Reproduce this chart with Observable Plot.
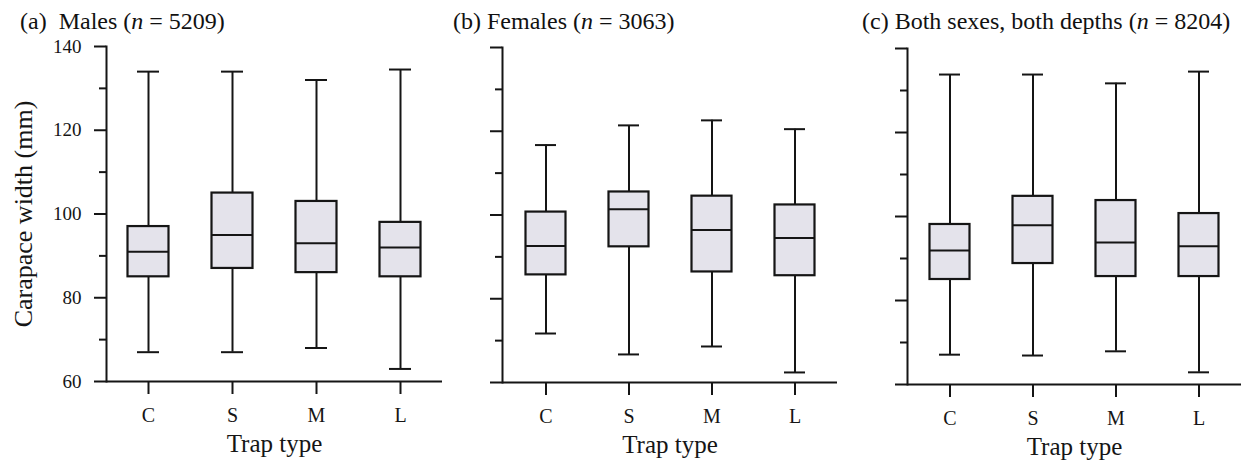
<!DOCTYPE html>
<html>
<head>
<meta charset="utf-8">
<script src="https://cdn.jsdelivr.net/npm/d3@7"></script>
<script src="https://cdn.jsdelivr.net/npm/@observablehq/plot@0.6"></script>
<style>
  body { margin: 0; background: #fff; }
  #wrap { position: relative; width: 1241px; height: 464px; font-family: "Liberation Serif", "Times New Roman", serif; color: #111; overflow: hidden; }
  .title { position: absolute; top: 9px; font-size: 24px; line-height: 24px; white-space: nowrap; }
  .panel { position: absolute; top: 0; }
</style>
</head>
<body>
<div id="wrap">
  <div class="title" style="left:20px">(a)&nbsp; Males (<i>n</i> = 5209)</div>
  <div class="title" style="left:453px">(b) Females (<i>n</i> = 3063)</div>
  <div class="title" style="left:862px">(c) Both sexes, both depths (<i>n</i> = 8204)</div>
  <div class="panel" id="pa" style="left:0px"></div>
  <div class="panel" id="pb" style="left:442px"></div>
  <div class="panel" id="pc" style="left:837px"></div>
</div>
<script>
// Categories
const trapTypes = ["C", "S", "M", "L"];

// Axis ticks
const majorTicks = [60, 80, 100, 120, 140];
const minorTicks = [70, 90, 110, 130];
const yLabel = "Carapace width (mm)";
const xLabel = "Trap type";

// (a) Males
const malesLow    = [67, 67, 68, 63];
const malesQ1     = [85, 87, 86, 85];
const malesMedian = [91, 95, 93, 92];
const malesQ3     = [97, 105, 103, 98];
const malesHigh   = [134, 134, 132, 134.5];

// (b) Females
const femalesLow    = [71.7, 66.7, 68.6, 62.4];
const femalesQ1     = [85.7, 92.4, 86.4, 85.5];
const femalesMedian = [92.6, 101.4, 96.4, 94.5];
const femalesQ3     = [100.7, 105.5, 104.5, 102.4];
const femalesHigh   = [116.7, 121.4, 122.6, 120.5];

// (c) Both sexes, both depths
const bothLow    = [67.1, 66.9, 67.9, 62.9];
const bothQ1     = [85.0, 88.8, 85.7, 85.7];
const bothMedian = [91.9, 97.9, 93.8, 92.9];
const bothQ3     = [98.1, 104.8, 103.8, 100.7];
const bothHigh   = [133.8, 133.8, 131.7, 134.5];

const FONT = '"Liberation Serif", "Times New Roman", serif';
const INK = "#151515";
const BOXFILL = "#e4e3eb";

function panel(low, q1, median, q3, high, cfg) {
  const rows = trapTypes.map((t, i) => ({type: t, low: low[i], q1: q1[i], median: median[i], q3: q3[i], high: high[i]}));
  const marks = [
    Plot.ruleX(rows, {x: "type", y1: "low", y2: "q1", stroke: INK, strokeWidth: 2}),
    Plot.ruleX(rows, {x: "type", y1: "q3", y2: "high", stroke: INK, strokeWidth: 2}),
    Plot.tickY(rows, {x: "type", y: "low", insetLeft: 31, insetRight: 31, stroke: INK, strokeWidth: 2}),
    Plot.tickY(rows, {x: "type", y: "high", insetLeft: 31, insetRight: 31, stroke: INK, strokeWidth: 2}),
    Plot.barY(rows, {x: "type", y1: "q1", y2: "q3", insetLeft: 21.5, insetRight: 21.5, fill: BOXFILL, stroke: INK, strokeWidth: 2.2}),
    Plot.tickY(rows, {x: "type", y: "median", insetLeft: 21.5, insetRight: 21.5, stroke: INK, strokeWidth: 2}),
    Plot.ruleY([60], {stroke: INK, strokeWidth: 2}),
    Plot.frame({anchor: "left", stroke: INK, strokeWidth: 2}),
    Plot.axisY({ticks: majorTicks, tickSize: 12, strokeWidth: 2, label: null, tickFormat: () => ""}),
    Plot.axisY({ticks: minorTicks, tickSize: 7, strokeWidth: 2, label: null, tickFormat: () => ""}),
    Plot.axisX({tickSize: 13, strokeWidth: 2, label: null, tickFormat: () => ""}),
    Plot.text(trapTypes, {x: d => d, frameAnchor: "bottom", dy: 26, lineAnchor: "top", fontSize: 20, fill: INK}),
    Plot.text([xLabel], {frameAnchor: "bottom", dy: 70, lineAnchor: "bottom", fontSize: 25, fill: INK})
  ];
  if (cfg.yLabels) {
    marks.push(Plot.text(majorTicks, {y: d => d, frameAnchor: "left", dx: -25, textAnchor: "end", lineAnchor: "middle", fontSize: 19, fill: INK}));
    marks.push(Plot.text([yLabel], {frameAnchor: "left", dx: -83, rotate: -90, textAnchor: "middle", lineAnchor: "middle", fontSize: 26, fill: INK}));
  }
  return Plot.plot({
    width: cfg.width,
    height: 464,
    marginLeft: cfg.marginLeft,
    marginRight: 0,
    marginTop: cfg.marginTop,
    marginBottom: cfg.marginBottom,
    x: {type: "band", domain: trapTypes, padding: 0, label: null},
    y: {domain: [60, 140], label: null},
    style: {fontFamily: FONT, color: INK, background: "transparent", overflow: "visible"},
    marks
  });
}

document.getElementById("pa").append(panel(malesLow, malesQ1, malesMedian, malesQ3, malesHigh,
  {width: 442, marginLeft: 106, marginTop: 46, marginBottom: 83, yLabels: true}));
document.getElementById("pb").append(panel(femalesLow, femalesQ1, femalesMedian, femalesQ3, femalesHigh,
  {width: 395, marginLeft: 60, marginTop: 47, marginBottom: 82, yLabels: false}));
document.getElementById("pc").append(panel(bothLow, bothQ1, bothMedian, bothQ3, bothHigh,
  {width: 404, marginLeft: 70, marginTop: 48, marginBottom: 80, yLabels: false}));
</script>
</body>
</html>
